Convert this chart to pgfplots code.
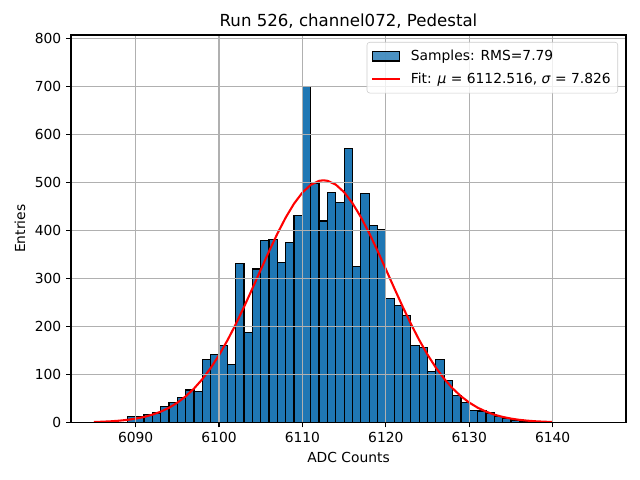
\documentclass[border=0pt]{standalone}
\usepackage{fontspec}
\setmainfont{DejaVu Sans}
\usepackage{pgfplots}
\pgfplotsset{compat=1.18}
\definecolor{c0}{HTML}{1F77B4}
\definecolor{gridc}{HTML}{B0B0B0}
\definecolor{legc}{HTML}{CCCCCC}
\begin{document}
\fontsize{10}{12}\selectfont
\begin{tikzpicture}
\useasboundingbox (0,0) rectangle (6.4in,4.8in);
\begin{axis}[
  at={(0.71in,0.575in)}, anchor=south west,
  scale only axis, width=5.55in, height=3.875in,
  xmin=6082.25, xmax=6148.8, ymin=0, ymax=808,
  xtick={6090,6100,...,6140}, ytick={0,100,...,800},
  /pgf/number format/1000 sep={},
  /pgf/number format/assume math mode=true,
  grid=major, grid style={gridc, line width=0.8pt},
  axis line style={line width=0.8pt},
  tick style={black, line width=0.8pt}, major tick length=3.5pt,
  tick align=outside, xtick pos=bottom, ytick pos=left,
  ticklabel style={font=\fontsize{10}{12}\selectfont},
  title={Run 526, channel072, Pedestal},
  title style={font=\fontsize{12}{14}\selectfont, yshift=-5pt},
  xlabel={ADC Counts}, ylabel={Entries},
  label style={font=\fontsize{10}{12}\selectfont},
  axis on top,
  legend cell align=left,
  legend style={at={(0.9856,0.982)}, anchor=north east,
    font=\fontsize{10}{12}\selectfont, draw=legc, fill=white,
    fill opacity=0.8, text opacity=1, rounded corners=2pt,
    inner xsep=3pt, inner ysep=3.5pt, row sep=3.5pt},
]
\addplot[ybar interval, fill=c0, draw=black, line width=0.9pt,
  legend image code/.code={\draw[sharp corners, fill=c0, draw=black, line width=0.9pt] (0pt,-3.5pt) rectangle (20pt,3.5pt); \path[draw=none, fill=none] (0pt,0pt) -- (26pt,0pt);}]
coordinates {
(6089,12) (6090,12) (6091,17) (6092,20) (6093,33) (6094,42) (6095,52)
(6096,68) (6097,65) (6098,131) (6099,142) (6100,160) (6101,121) (6102,331)
(6103,188) (6104,320) (6105,380) (6106,382) (6107,334) (6108,375) (6109,432)
(6110,701) (6111,499) (6112,420) (6113,480) (6114,458) (6115,572) (6116,326)
(6117,478) (6118,411) (6119,402) (6120,258) (6121,244) (6122,223) (6123,161)
(6124,156) (6125,107) (6126,132) (6127,87) (6128,56) (6129,41) (6130,25)
(6131,24) (6132,20) (6133,12) (6134,8) (6135,5) (6136,2) (6137,0)
};
\addlegendentry{Samples: RMS=7.79}
\addplot[red, line width=1.5pt,
  legend image code/.code={\draw[sharp corners, red, line width=1.5pt] (0pt,0pt) -- (20pt,0pt); \path[draw=none, fill=none] (0pt,0pt) -- (26pt,0pt);}]
coordinates {
(6085,1.04) (6086,1.62) (6087,2.48) (6088,3.73) (6089,5.52) (6090,8.05)
(6091,11.5) (6092,16.3) (6093,22.5) (6094,30.7) (6095,41.3) (6096,54.5)
(6097,70.8) (6098,90.4) (6099,113.6) (6100,140.5) (6101,171.0) (6102,204.7)
(6103,241.1) (6104,279.4) (6105,318.4) (6106,357.1) (6107,393.9) (6108,427.5)
(6109,456.5) (6110,479.5) (6111,495.6) (6112,503.9) (6112.5,505.0) (6113,504.0)
(6114,496.0) (6115,480.2) (6116,457.4) (6117,428.5) (6118,395.1) (6119,358.3)
(6120,319.7) (6121,280.6) (6122,242.3) (6123,205.9) (6124,172.1) (6125,141.5)
(6126,114.4) (6127,91.1) (6128,71.3) (6129,54.9) (6130,41.6) (6131,31.0)
(6132,22.8) (6133,16.4) (6134,11.7) (6135,8.15) (6136,5.60) (6137,3.78)
(6138,2.51) (6139,1.65) (6140,1.06)
};
\addlegendentry{Fit: \textit{μ} = 6112.516, \textit{σ} = 7.826}
\end{axis}
\end{tikzpicture}
\end{document}
